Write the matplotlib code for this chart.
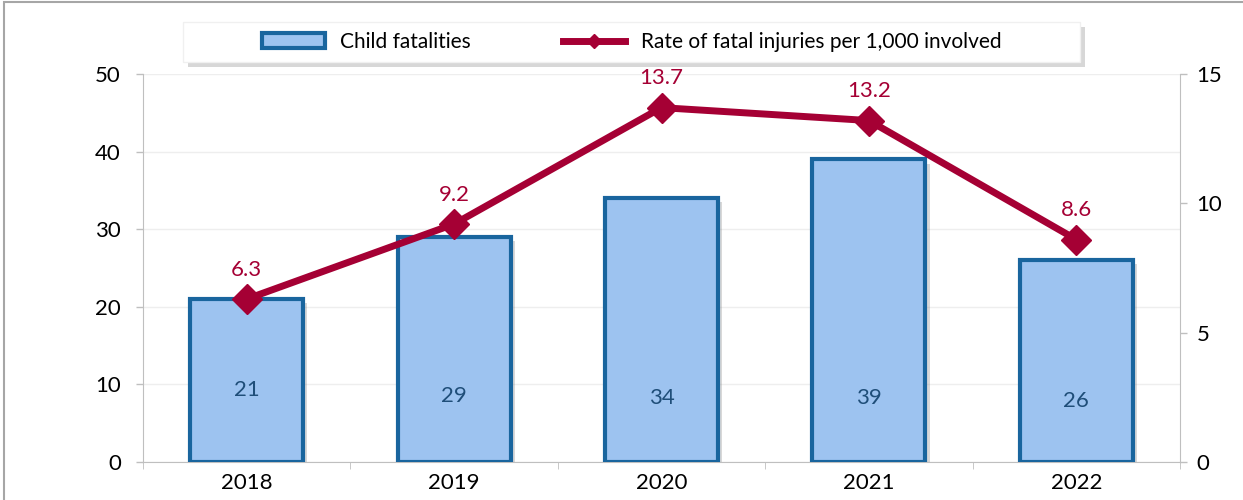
import matplotlib.pyplot as plt
import matplotlib.patheffects as pe
from matplotlib.patches import Rectangle, Patch
from matplotlib.lines import Line2D
import numpy as np

years = ["2018", "2019", "2020", "2021", "2022"]
fatalities = [21, 29, 34, 39, 26]
rate = [6.3, 9.2, 13.7, 13.2, 8.6]

bar_face = "#9dc3f0"
bar_edge = "#19659e"
line_col = "#a50034"

plt.rcParams['font.family'] = ['Lato', 'DejaVu Sans']

W, H = 1243, 500
fig = plt.figure(figsize=(W / 100, H / 100), dpi=100)
ax = fig.add_axes([143 / W, 38 / H, (1180 - 143) / W, (462 - 74) / H])
ax2 = ax.twinx()

x = np.arange(len(years))
shadow = [pe.SimplePatchShadow(offset=(3, -3), shadow_rgbFace="#808080", alpha=0.3), pe.Normal()]
bars = ax.bar(x, fatalities, width=0.545, color=bar_face, edgecolor=bar_edge,
              linewidth=3, zorder=3)
for b in bars:
    b.set_path_effects(shadow)
# bar labels sit low inside the bars
inner_y = [9.3, 8.5, 8.3, 8.3, 7.8]
for xi, v, yy in zip(x, fatalities, inner_y):
    ax.text(xi, yy, str(v), ha="center", va="center", fontsize=16,
            color="#1f4e79", zorder=4)

ax.set_xlim(-0.5, 4.5)
ax.set_ylim(0, 50)
ax.set_yticks(range(0, 51, 10))
ax.set_xticks(x)
ax.set_xticklabels(years)
ax.grid(axis="y", color="#eeeeee", linewidth=1, zorder=0)
ax.set_axisbelow(True)

ax2.plot(x, rate, color=line_col, linewidth=5, marker="D", markersize=15, zorder=5)
for xi, v in zip(x, rate):
    ax2.text(xi, v + 0.75, f"{v:.1f}", ha="center", va="bottom", fontsize=16,
             color=line_col)
ax2.set_ylim(0, 15)
ax2.set_yticks([0, 5, 10, 15])

for a in (ax, ax2):
    for s in a.spines.values():
        s.set_visible(False)
    a.tick_params(labelsize=16, labelcolor="#000000", color="#bfbfbf", length=5, width=1)
ax.spines["left"].set_visible(True)
ax.spines["left"].set_color("#bfbfbf")
ax.spines["bottom"].set_visible(True)
ax.spines["bottom"].set_color("#bfbfbf")
ax2.spines["right"].set_visible(True)
ax2.spines["right"].set_color("#bfbfbf")
ax.tick_params(axis="y", pad=11)
ax2.tick_params(axis="y", pad=7)
ax.set_xticks(np.arange(-0.5, 5, 1), minor=True)
ax.tick_params(axis="x", which="major", length=0, pad=8)
ax.tick_params(axis="x", which="minor", length=5, color="#bfbfbf")

# legend with a hand-drawn shadowed frame
fig.patches.append(Rectangle(((183 + 5) / W, 1 - (62 + 5) / H), 897 / W, 40 / H,
                             transform=fig.transFigure, facecolor="#bdbdbd",
                             edgecolor="none", alpha=0.6))
fig.patches.append(Rectangle((183 / W, 1 - 62 / H), 897 / W, 40 / H,
                             transform=fig.transFigure, facecolor="white",
                             edgecolor="#f0f0f0", linewidth=1))
handles = [Patch(facecolor=bar_face, edgecolor=bar_edge, linewidth=3),
           Line2D([], [], color=line_col, linewidth=5, marker="D", markersize=7)]
labels = ["Child fatalities", "Rate of fatal injuries per 1,000 involved"]
fig.legend(handles, labels, loc="center", bbox_to_anchor=(632 / W, 1 - 42 / H),
           ncol=2, fontsize=15, frameon=False, columnspacing=4.4,
           handlelength=3.0, handletextpad=0.75, borderaxespad=0)

fig.patches.append(Rectangle((4 / W, -0.02), 1.1, 1 - 2 / H + 0.02,
                             transform=fig.transFigure, fill=False,
                             edgecolor="#a6a6a6", linewidth=1.5))

fig.savefig("out.png", dpi=100)
